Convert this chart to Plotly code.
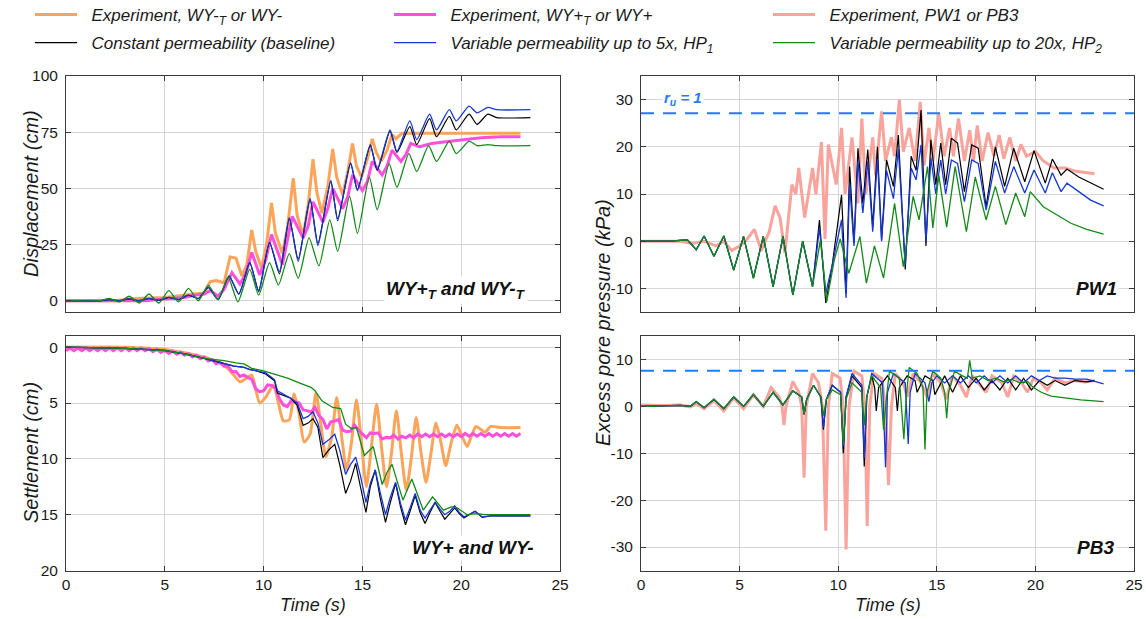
import plotly.graph_objects as go

# ---------------- data (time in s) ----------------
# Displacement (cm) - WY+T and WY-T
disp_exp_minus = [(0, 0), (2.5, 0), (3.5, 1), (5.0, 1.5), (6.5, 3), (7.0, 3.5), (7.3, 8.5), (7.6, 9), (8.0, 8),
                  (8.15, 14), (8.3, 19.5), (8.6, 19), (8.9, 11), (9.15, 16), (9.4, 31.5), (9.6, 22), (9.9, 14.5),
                  (10.15, 25), (10.4, 43.5), (10.6, 30), (10.95, 21), (11.2, 32), (11.5, 54.5), (11.7, 38),
                  (12.0, 29), (12.25, 42), (12.5, 63), (12.7, 48), (12.95, 39), (13.25, 51), (13.5, 67.5),
                  (13.7, 55), (14.0, 47), (14.25, 57), (14.5, 70), (14.7, 60), (14.95, 55), (15.25, 63),
                  (15.5, 72), (15.7, 66), (15.95, 62), (16.25, 67), (16.5, 74), (16.7, 72), (17.0, 74.5),
                  (23.0, 74.5)]
disp_exp_plus = [(0, 0), (4, 0), (5, 0.8), (6, 1.5), (6.5, 2.5), (7.0, 3), (7.3, 4.5), (7.7, 2), (8.0, 5),
                 (8.4, 12.5), (8.8, 7.5), (9.1, 12), (9.4, 21.5), (9.8, 11.5), (10.1, 18), (10.4, 29.5),
                 (10.95, 16), (11.2, 26), (11.45, 37.5), (12.0, 28), (12.25, 33), (12.5, 44), (13.0, 35),
                 (13.25, 41), (13.5, 50), (14.0, 41), (14.25, 46), (14.5, 56), (15.0, 49), (15.25, 53),
                 (15.5, 62), (16.0, 56), (16.25, 60), (16.5, 67), (16.95, 62), (17.2, 65), (17.45, 70),
                 (17.9, 68.5), (18.5, 70), (19.0, 70.5), (20.0, 71.5), (21.0, 72.5), (22.0, 73), (23.0, 73)]
disp_const = [(0, 0), (1.7, 0), (2.2, 0.5), (2.7, 0), (3.2, 0.8), (3.7, 0), (4.2, 1.0), (4.7, 0.2), (5.2, 1.5),
              (5.7, 0.5), (6.2, 2.5), (6.7, 1), (7.2, 6), (7.7, 0.5), (8.25, 11), (8.75, 3), (9.3, 17),
              (9.75, 4.5), (10.3, 26), (10.8, 12), (11.3, 36.5), (11.75, 18.5), (12.35, 45), (12.75, 25.5),
              (13.4, 53), (13.75, 36.5), (14.4, 61), (14.75, 49.5), (15.4, 69), (15.75, 58), (16.4, 75.5),
              (16.75, 66), (17.4, 77.5), (17.75, 69.5), (18.4, 81), (18.75, 73), (19.4, 82), (19.75, 76),
              (20.4, 83), (20.8, 78.5), (21.35, 83), (21.8, 81.5), (23.5, 81.5)]
disp_hp1 = [(0, 0), (1.7, 0), (2.2, 0.5), (2.7, 0), (3.2, 0.8), (3.7, 0), (4.2, 1.0), (4.7, 0.2), (5.2, 1.5),
            (5.7, 0.5), (6.2, 2.5), (6.7, 1), (7.2, 6), (7.7, 0.5), (8.25, 11), (8.75, 3), (9.3, 17),
            (9.75, 4), (10.3, 26), (10.8, 13), (11.3, 37), (11.75, 17.5), (12.35, 45.5), (12.75, 24.5),
            (13.4, 53.5), (13.75, 35.5), (14.4, 61.5), (14.75, 49), (15.4, 69.5), (15.75, 58.5), (16.4, 76),
            (16.75, 66.5), (17.4, 80), (17.75, 71.7), (18.4, 83), (18.75, 76), (19.4, 85), (19.75, 80),
            (20.4, 86.6), (20.8, 83.6), (21.35, 86), (21.8, 85), (23.5, 85)]
disp_hp2 = [(0, 0), (1.7, 0), (2.2, 1), (2.7, -0.5), (3.2, 2), (3.7, -1), (4.2, 3), (4.7, -1), (5.2, 4.5),
            (5.7, -0.5), (6.2, 5.5), (6.7, 0), (7.2, 7), (7.7, 0.5), (8.2, 10.5), (8.7, -0.5), (9.3, 14),
            (9.75, 2.5), (10.3, 17), (10.75, 7), (11.3, 21), (11.75, 10), (12.3, 28), (12.8, 15.5),
            (13.35, 36), (13.75, 22), (14.35, 46.5), (14.75, 30), (15.35, 55), (15.75, 40.5), (16.35, 61),
            (16.75, 50.5), (17.35, 65.5), (17.75, 57.5), (18.35, 69), (18.75, 62), (19.4, 71), (19.75, 65.5),
            (20.4, 71), (20.8, 69), (21.35, 69.5), (21.8, 69), (23.5, 69)]

# Settlement (cm) - WY+ and WY-
sett_exp_minus = [(0, 0), (3, 0), (5, 0.2), (6, 0.5), (7, 0.9), (7.5, 1.2), (8.0, 1.6), (8.4, 2.3), (8.8, 3.1),
                  (9.1, 2.8), (9.4, 2.5), (9.8, 5.0), (10.1, 4.5), (10.5, 3.4), (10.75, 5.0), (11.0, 6.6),
                  (11.3, 6.5), (11.55, 4.2), (11.8, 6.0), (12.05, 8.5), (12.35, 7.8), (12.65, 4.1), (12.9, 7.0),
                  (13.15, 9.8), (13.45, 8.0), (13.7, 4.5), (13.95, 8.0), (14.2, 11.0), (14.45, 8.5), (14.7, 4.7),
                  (14.95, 8.5), (15.2, 12.5), (15.45, 9.0), (15.72, 5.1), (15.97, 9.0), (16.22, 12.5),
                  (16.47, 9.5), (16.72, 5.7), (16.97, 9.5), (17.22, 12.8), (17.47, 10), (17.72, 6.3),
                  (17.97, 9.5), (18.22, 12.1), (18.47, 9.5), (18.72, 6.8), (18.97, 8.5), (19.22, 10.6),
                  (19.5, 8.5), (19.78, 7.0), (20.05, 8.0), (20.3, 8.9), (20.55, 7.8), (20.75, 7.1), (21.2, 7.6),
                  (21.5, 7.1), (22.0, 7.2), (23.0, 7.2)]
# WY+ settlement record, sampled every 0.2 s from t = 0 to 23 s
sett_exp_plus_dt = 0.2
sett_exp_plus = [0.32, 0.08, 0.32, 0.08, 0.32, 0.08, 0.32, 0.08, 0.32, 0.08,
                 0.32, 0.08, 0.32, 0.08, 0.32, 0.08, 0.32, 0.08, 0.32, 0.08,
                 0.32, 0.12, 0.40, 0.20, 0.48, 0.28, 0.56, 0.36, 0.64, 0.44,
                 0.72, 0.56, 0.88, 0.72, 1.04, 0.88, 1.24, 1.12, 1.48, 1.36,
                 1.72, 1.72, 2.20, 2.18, 2.62, 2.48, 2.72, 2.88, 3.72, 3.98,
                 3.92, 3.38, 3.42, 3.68, 4.62, 5.18, 5.32, 4.78, 4.92, 4.98,
                 5.62, 5.68, 5.82, 5.38, 6.12, 6.48, 7.32, 6.68, 6.62, 6.48,
                 7.42, 7.58, 7.52, 6.98, 7.42, 7.78, 8.12, 7.68, 7.72, 7.68,
                 8.22, 8.08, 8.12, 7.88, 8.22, 7.98, 8.12, 7.88, 8.12, 7.78,
                 8.02, 7.78, 8.02, 7.78, 8.02, 7.78, 8.02, 7.78, 8.02, 7.78,
                 8.02, 7.73, 7.97, 7.73, 7.97, 7.73, 7.97, 7.73, 7.97, 7.73,
                 7.97, 7.73, 7.97, 7.73, 7.97, 7.73]
sett_const = [(0, 0), (3, 0.1), (5, 0.3), (6, 0.6), (7, 1.0), (8, 1.5), (8.5, 1.7), (9.0, 1.8), (9.3, 2.0),
              (9.6, 2.1), (10.1, 2.4), (10.4, 2.8), (10.55, 3.0), (10.7, 4.1), (11.0, 4.3), (11.4, 4.6),
              (11.7, 5.2), (12.0, 7.0), (12.25, 6.8), (12.5, 6.4), (12.75, 7.2), (13.0, 9.9), (13.3, 9.2),
              (13.6, 8.7), (13.85, 10.5), (14.15, 13.1), (14.4, 12.0), (14.66, 10.4), (14.9, 12.5),
              (15.18, 14.8), (15.4, 12.5), (15.65, 11.0), (15.9, 13.5), (16.17, 15.7), (16.4, 14.0),
              (16.68, 12.2), (16.93, 14.3), (17.18, 15.9), (17.43, 14.6), (17.67, 13.3), (17.92, 14.8),
              (18.17, 15.8), (18.42, 14.8), (18.68, 13.9), (18.93, 14.7), (19.17, 15.4), (19.42, 14.9),
              (19.67, 14.4), (19.9, 14.9), (20.14, 15.3), (20.4, 15.0), (20.7, 14.7), (21.07, 15.25),
              (21.5, 15.1), (23.5, 15.1)]
sett_hp1 = [(0, 0), (3, 0.1), (5, 0.3), (6, 0.6), (7, 1.0), (8, 1.5), (8.5, 1.7), (9.0, 1.8), (9.3, 2.0),
            (9.6, 2.1), (10.1, 2.3), (10.4, 2.7), (10.55, 2.9), (10.7, 3.9), (11.0, 4.2), (11.4, 4.6),
            (11.7, 5.0), (12.0, 6.4), (12.25, 6.2), (12.5, 5.8), (12.75, 6.8), (13.0, 8.7), (13.3, 8.3),
            (13.6, 7.8), (13.85, 9.2), (14.15, 11.4), (14.4, 10.5), (14.66, 9.85), (14.9, 11.5),
            (15.18, 13.9), (15.4, 12.2), (15.65, 11.0), (15.9, 13.0), (16.17, 15.0), (16.4, 13.5),
            (16.68, 12.1), (16.93, 14.0), (17.18, 15.5), (17.43, 14.3), (17.67, 13.1), (17.92, 14.6),
            (18.17, 15.3), (18.42, 14.6), (18.68, 13.9), (18.93, 14.5), (19.17, 15.0), (19.42, 14.7),
            (19.67, 14.2), (19.9, 14.8), (20.14, 15.2), (20.4, 15.0), (20.7, 14.7), (21.07, 15.2),
            (21.5, 15.1), (23.5, 15.1)]
sett_hp2 = [(0, 0), (3, 0.1), (5, 0.3), (6, 0.6), (7, 1.0), (8, 1.2), (8.6, 1.4), (9.0, 1.5), (9.4, 1.9),
            (9.95, 2.1), (10.5, 2.4), (11.25, 2.8), (11.8, 3.2), (12.4, 3.6), (12.6, 3.9), (12.95, 4.8),
            (13.5, 5.4), (13.9, 5.5), (14.15, 6.9), (14.45, 7.3), (14.7, 7.2), (15.1, 9.7), (15.55, 8.9),
            (16.0, 12.3), (16.25, 11.2), (16.5, 10.5), (17.05, 13.7), (17.5, 11.8), (18.08, 14.6),
            (18.55, 13.4), (19.1, 14.6), (19.5, 14.3), (19.8, 14.4), (20.3, 15.0), (20.8, 14.9),
            (21.2, 15.0), (23.5, 15.0)]

# Excess pore pressure (kPa) - PW1
pw1_exp = [(0, 0), (2.0, 0), (2.6, -0.5), (3.2, 0), (3.8, -1), (4.2, 0), (4.6, -2), (5.0, -1), (5.3, 0),
           (5.75, 2.5), (6.1, -2), (6.5, 2), (6.8, 7.5), (7.05, 5), (7.3, -2.5), (7.65, 12), (7.85, 10),
           (8.0, 15.5), (8.3, 5), (8.7, 15.5), (8.87, 10), (9.15, 21), (9.33, 0.5), (9.5, 20.5), (9.9, 12),
           (10.17, 24), (10.35, 10), (10.7, 22), (11.0, 8), (11.2, 26), (11.4, 10), (11.75, 22), (11.9, 14),
           (12.2, 27.5), (12.4, 17), (12.7, 22), (12.86, 18), (13.1, 30), (13.3, 19), (13.6, 24), (13.9, 17),
           (14.16, 29.5), (14.35, 16), (14.6, 24), (14.8, 17), (15.1, 27), (15.37, 18), (15.65, 24),
           (15.84, 18), (16.1, 26), (16.4, 17), (16.67, 23.5), (16.86, 17), (17.05, 24.5), (17.3, 17),
           (17.6, 23), (17.9, 18), (18.16, 22.5), (18.4, 17.5), (18.7, 22), (19.0, 17), (19.27, 20.5),
           (19.55, 18), (20.0, 19), (20.4, 17), (20.6, 16.5), (20.95, 15.5), (21.5, 15.5), (22.06, 14.8),
           (23.0, 14.3)]
pw1_time = [0, 1.5, 2.35, 2.8, 3.2, 3.7, 4.2, 4.7, 5.2, 5.7, 6.2, 6.7, 7.2, 7.7, 8.2, 8.7, 9.05, 9.37, 9.7,
            10.17, 10.4, 10.58, 10.8, 11.0, 11.25, 11.5, 11.75, 11.99, 12.2, 12.45, 12.8, 13.05, 13.4, 13.7,
            13.95, 14.2, 14.45, 14.7, 14.95, 15.2, 15.45, 15.74, 16.05, 16.4, 16.77, 17.1, 17.5, 17.97, 18.44,
            18.9, 19.46, 19.93, 20.5, 20.86, 21.3, 21.6, 22.2, 22.8, 23.46]
pw1_const = [0, 0, 0.3, -1.8, 1.1, -3.2, 1.1, -6.1, 1.0, -7.8, 1.0, -9.6, 1.0, -11.4, 0, -9.6, 4.5, -13.1, -5,
             9.8, -11, 15.8, -0.4, 19.7, 8, 19.4, 3, 20, 0.3, 17.2, 11.6, 22.5, -6, 18, 15, 27.8, -1, 21.5, 12,
             20.8, 12, 21.8, 20.8, 10.5, 20.4, 19.7, 7.3, 20, 11.6, 19.7, 12.6, 19.2, 12.3, 17.4, 14.0, 15.3,
             13.6, 12.4, 11]
pw1_hp1 = [0, 0, 0.3, -1.8, 1.1, -3.2, 1.1, -6.1, 1.0, -7.8, 1.0, -9.6, 1.0, -11.4, 0, -9.6, 2.8, -11, -5,
           4.5, -12, 12, -1, 17, 6, 17, 2, 17.5, 0, 15, 9, 19.5, -5, 15.5, 13, 20.4, 0, 17.6, 10, 17.2, 10,
           17.2, 16.5, 8.4, 17.2, 16.5, 6.6, 16.9, 10.2, 15.8, 10.2, 15.1, 10.2, 14.5, 10.5, 12.3, 10.5, 8.7,
           7.5]
pw1_hp2 = [(0, 0), (1.5, 0), (2.35, 0.3), (2.8, -1.8), (3.2, 1.1), (3.7, -3.2), (4.2, 1.1), (4.7, -6.1),
           (5.2, 1.0), (5.7, -7.8), (6.2, 1.0), (6.7, -9.6), (7.2, 1.0), (7.7, -11.4), (8.2, 0), (8.7, -9.6),
           (9.1, 0.3), (9.42, -12.8), (9.8, -4), (10.1, 0.5), (10.54, -6.8), (11.1, 1), (11.43, -8.9),
           (11.84, -1), (12.3, -7.8), (12.86, 8), (13.3, -5.4), (13.8, 9.5), (14.1, 4.5), (14.53, 15.8),
           (14.8, 2.8), (15.1, 14), (15.5, 3), (15.93, 15.8), (16.5, 2), (16.95, 13.6), (17.5, 4.5),
           (17.97, 11.6), (18.5, 3.5), (19.0, 10.2), (19.46, 5.2), (19.74, 10.5), (20.4, 7.3), (21.0, 5.8),
           (21.8, 3.8), (22.6, 2.5), (23.46, 1.5)]

# Excess pore pressure (kPa) - PB3
pb3_exp = [(0, 0.3), (1, 0.2), (2, 0.3), (2.5, -0.1), (2.8, 0.6), (3.2, -0.5), (3.7, 1.2), (4.2, -1), (4.7, 1.8),
           (5.2, -0.5), (5.7, 2.5), (6.2, 0), (6.6, 4), (7.0, 2), (7.15, 0), (7.25, -4), (7.35, 0), (7.7, 5.3),
           (8.0, 3), (8.15, 0), (8.27, -15.2), (8.38, 0), (8.7, 7), (9.0, 5), (9.2, 0), (9.37, -26.5), (9.5, 0),
           (9.7, 7), (10.1, 6), (10.25, 0), (10.4, -30.5), (10.55, 0), (10.8, 7.5), (11.2, 6.5), (11.35, 0),
           (11.47, -25.5), (11.6, 0), (11.8, 7), (12.2, 6), (12.4, 0), (12.55, -16.8), (12.7, 0), (12.9, 7),
           (13.3, 5), (13.5, 2), (13.8, 7), (14.2, 5), (14.5, 2), (14.8, 7), (15.2, 5), (15.47, 1.5),
           (15.8, 6.5), (16.2, 4.5), (16.5, 2), (16.8, 6.5), (17.2, 4.5), (17.5, 3), (17.8, 6.5), (18.3, 5),
           (18.6, 2), (18.9, 6.5), (19.3, 5), (19.6, 3), (19.9, 6), (20.3, 5), (20.6, 3.5), (21.0, 6),
           (21.5, 5), (22.0, 5.5), (22.5, 5.2), (23.0, 5.5)]
pb3_const = [(0, 0), (2.0, 0.2), (2.5, 0), (2.8, 1), (3.2, -0.3), (3.7, 1.5), (4.2, -0.5), (4.7, 2), (5.2, 0),
             (5.7, 2.5), (6.2, 0), (6.7, 3), (7.2, 0.3), (7.7, 3.3), (8.15, 2), (8.27, -1.7), (8.4, 1.5),
             (8.75, 4.5), (9.12, 2), (9.25, -5), (9.4, 1.5), (9.7, 4.5), (10.12, 3), (10.26, -10), (10.4, 2),
             (10.7, 6.5), (11.2, 4), (11.32, -12.8), (11.45, 2), (11.7, 6.5), (11.85, 4), (11.93, -1),
             (12.05, 4), (12.5, 6.5), (12.9, 4), (13.0, -1), (13.1, 4), (13.5, 6.5), (13.9, 5.5), (14.0, 3),
             (14.4, 6.5), (14.8, 5.5), (14.9, 2.5), (15.4, 6.5), (15.8, 3), (16.2, 6.5), (16.6, 4), (17.0, 6),
             (17.4, 3.5), (17.8, 5.5), (18.2, 3.5), (18.6, 6), (19.0, 3.5), (19.4, 6), (19.8, 3.5), (20.2, 5.5),
             (20.6, 4.5), (21.0, 5.5), (21.5, 4.5), (22.0, 5.5), (22.6, 5.2), (23.0, 5.5)]
pb3_hp1 = [(0, 0), (2.0, 0.2), (2.5, 0), (2.8, 1), (3.2, -0.3), (3.7, 1.5), (4.2, -0.5), (4.7, 2), (5.2, 0),
           (5.7, 2.5), (6.2, 0), (6.7, 3), (7.2, 0.3), (7.7, 3.3), (8.15, 2), (8.27, -1.7), (8.4, 1.5),
           (8.75, 4.5), (9.12, 2), (9.25, -4.5), (9.4, 1.5), (9.7, 4.5), (10.12, 3), (10.26, -8.5), (10.4, 2),
           (10.7, 7), (11.2, 4.5), (11.32, -11), (11.45, 2), (11.7, 7), (12.25, 5), (12.4, -13), (12.5, 3),
           (12.8, 7), (13.4, 5), (13.55, -8), (13.65, 3), (13.9, 7), (14.4, 5), (14.6, 1), (14.75, 5),
           (15.0, 6.5), (15.4, 5), (15.8, 6.5), (16.2, 5), (16.6, 6.5), (17.0, 5), (17.4, 6.5), (17.8, 5),
           (18.2, 6.5), (18.6, 5), (19.0, 6.5), (19.4, 5), (19.8, 6.5), (20.2, 5.5), (20.6, 6.5), (21.0, 6),
           (21.5, 6), (22.0, 5.8), (22.6, 5.8), (23.46, 4.8)]
pb3_hp2 = [(0, 0), (2.0, 0.2), (2.5, 0), (2.8, 1), (3.2, -0.3), (3.7, 1.5), (4.2, -0.5), (4.7, 2), (5.2, 0),
           (5.7, 2.5), (6.2, 0), (6.7, 3), (7.2, 0.3), (7.7, 3.3), (8.15, 2), (8.27, -1.7), (8.4, 1.5),
           (8.75, 4.5), (9.12, 2), (9.25, -2), (9.4, 1.5), (9.7, 3.5), (10.12, 2.5), (10.26, -8), (10.4, 1.5),
           (10.7, 5), (11.2, 3), (11.32, -4), (11.45, 2), (11.7, 6.5), (12.15, 4), (12.3, -5), (12.45, 2),
           (12.6, 7.5), (13.1, 6), (13.33, -7), (13.45, 2), (13.6, 8.3), (14.0, 7), (14.3, 4), (14.4, -9.2),
           (14.5, 3), (14.8, 7.5), (15.2, 6), (15.4, 3), (15.5, -2.5), (15.6, 3), (15.9, 7.5), (16.3, 6.5),
           (16.55, 6), (16.67, 9.8), (16.8, 6), (17.2, 6.5), (17.6, 5.5), (18.0, 6), (18.4, 5.2), (18.8, 5.8),
           (19.2, 5), (19.6, 5.3), (19.9, 4), (20.3, 3), (20.8, 2.2), (21.5, 1.8), (22.3, 1.4), (23.46, 1.0)]

# pore pressure ratio r_u = 1 levels (kPa)
ru1_pw1 = 27.1
ru1_pb3 = 7.6

# tick labels
time_ticks = [0, 5, 10, 15, 20, 25]
disp_ticks = [0, 25, 50, 75, 100]
sett_ticks = [0, 5, 10, 15, 20]
pw1_ticks = [-10, 0, 10, 20, 30]
pb3_ticks = [-30, -20, -10, 0, 10]

series_names = {
    "exp_minus": "Experiment, WY-<sub>T</sub> or WY-",
    "exp_plus": "Experiment, WY+<sub>T</sub> or WY+",
    "exp_pw": "Experiment, PW1 or PB3",
    "const": "Constant permeability (baseline)",
    "hp1": "Variable permeability up to 5x, HP<sub>1</sub>",
    "hp2": "Variable permeability up to 20x, HP<sub>2</sub>",
}

# ---------------- styling ----------------
FONT = "Liberation Sans, Arial, sans-serif"
W, H = 1146, 619
styles = {
    "exp_minus": dict(color="#fba45a", width=3),
    "exp_plus": dict(color="#ff4fdc", width=3),
    "exp_pw": dict(color="#f8a39c", width=3),
    "const": dict(color="#000000", width=1.2),
    "hp1": dict(color="#1536d8", width=1.3),
    "hp2": dict(color="#138a18", width=1.3),
}
# one legend box per entry: (legend id, left edge px, row centre px)
legend_slot = {
    "exp_minus": ("legend", 30, 15), "exp_plus": ("legend2", 389, 15), "exp_pw": ("legend3", 768, 15),
    "const": ("legend4", 30, 43), "hp1": ("legend5", 389, 43), "hp2": ("legend6", 768, 43),
}


def unzip(pairs):
    return [p[0] for p in pairs], [p[1] for p in pairs]


fig = go.Figure()
shown = set()


def add(key, t, v, xa, ya, shape="linear"):
    first = key not in shown
    shown.add(key)
    fig.add_trace(go.Scatter(
        x=t, y=v, mode="lines", name="\u00a0\u00a0" + series_names[key], legendgroup=key,
        showlegend=first, legend=legend_slot[key][0],
        line=dict(shape=shape, smoothing=0.6 if shape == "spline" else None, **styles[key]),
        xaxis=xa, yaxis=ya, hoverinfo="skip"))


# displacement
add("exp_minus", *unzip(disp_exp_minus), "x", "y")
add("exp_plus", *unzip(disp_exp_plus), "x", "y")
add("const", *unzip(disp_const), "x", "y", "spline")
add("hp1", *unzip(disp_hp1), "x", "y", "spline")
add("hp2", *unzip(disp_hp2), "x", "y", "spline")

# settlement
add("exp_minus", *unzip(sett_exp_minus), "x2", "y2", "spline")
sp_t = [round(i * sett_exp_plus_dt, 1) for i in range(len(sett_exp_plus))]
add("exp_plus", sp_t, sett_exp_plus, "x2", "y2")
add("const", *unzip(sett_const), "x2", "y2")
add("hp1", *unzip(sett_hp1), "x2", "y2")
add("hp2", *unzip(sett_hp2), "x2", "y2")

# PW1
add("exp_pw", *unzip(pw1_exp), "x3", "y3")
add("const", pw1_time, pw1_const, "x3", "y3")
add("hp1", pw1_time, pw1_hp1, "x3", "y3")
add("hp2", *unzip(pw1_hp2), "x3", "y3")

# PB3
add("exp_pw", *unzip(pb3_exp), "x4", "y4")
add("const", *unzip(pb3_const), "x4", "y4")
add("hp1", *unzip(pb3_hp1), "x4", "y4")
add("hp2", *unzip(pb3_hp2), "x4", "y4")

# r_u = 1 reference lines
for ya, lvl in (("y3", ru1_pw1), ("y4", ru1_pb3)):
    fig.add_trace(go.Scatter(x=[0, 25], y=[lvl, lvl], mode="lines", showlegend=False, hoverinfo="skip",
                             line=dict(color="#1f7bff", width=2, dash="13px,9px"),
                             xaxis=ya.replace("y", "x"), yaxis=ya))

LEFT = [66 / W, 560 / W]
RIGHT = [641 / W, 1134 / W]
TOP = [1 - 312 / H, 1 - 76 / H]
BOTTOM = [1 - 570.5 / H, 1 - 336 / H]

axis_common = dict(showline=True, linecolor="#3a3a3a", linewidth=1, mirror="ticks", ticks="inside",
                   ticklen=5, tickcolor="#3a3a3a", showgrid=True, gridcolor="#d6d6d6", gridwidth=1,
                   zeroline=False, tickfont=dict(family=FONT, size=15.5, color="#1a1a1a"))


def xaxis(domain, anchor, labels):
    return dict(domain=domain, anchor=anchor, range=[0, 25], tickvals=time_ticks,
                ticktext=[str(v) for v in time_ticks], showticklabels=labels, ticklabelstandoff=0,
                **axis_common)


def yaxis(domain, anchor, rng, ticks):
    return dict(domain=domain, anchor=anchor, range=rng, tickvals=ticks,
                ticktext=[str(v) for v in ticks], ticklabelstandoff=4, **axis_common)


def px(x):
    return x / W


def py(y):
    return 1 - y / H


title_font = dict(family=FONT, size=18, color="#1a1a1a", style="italic")
vtitle_font = dict(family=FONT, size=20, color="#1a1a1a", style="italic")
label_font = dict(family=FONT, size=19, color="#111111")

annotations = [
    dict(text="Displacement (cm)", x=px(31), y=py(194), textangle=-90, font=vtitle_font),
    dict(text="Settlement (cm)", x=px(31), y=py(453), textangle=-90, font=vtitle_font),
    dict(text="Excess pore pressure (kPa)", x=px(603), y=py(323), textangle=-90, font=vtitle_font),
    dict(text="Time (s)", x=px(313), y=py(605), font=title_font),
    dict(text="Time (s)", x=px(887.5), y=py(605), font=title_font),
    dict(text="<b><i>WY+<sub>T</sub> and WY-<sub>T</sub></i></b>", x=19.75, y=4.8, xref="x", yref="y",
         font=label_font, bgcolor="white"),
    dict(text="<b><i>WY+ and WY-</i></b>", x=20.6, y=17.9, xref="x2", yref="y2",
         font=label_font, bgcolor="white"),
    dict(text="<b><i>PW1</i></b>", x=23.1, y=-10, xref="x3", yref="y3", font=label_font, bgcolor="white"),
    dict(text="<b><i>PB3</i></b>", x=23.05, y=-30, xref="x4", yref="y4", font=label_font, bgcolor="white"),
    dict(text="<b><i>r<sub>u</sub> = 1</i></b>", x=2.15, y=30.2, xref="x3", yref="y3",
         font=dict(family=FONT, size=15, color="#1f7bff"), bgcolor="white"),
]
for a in annotations:
    a.setdefault("xref", "paper")
    a.setdefault("yref", "paper")
    a["xanchor"] = "center"
    a["yanchor"] = "middle"
    a["showarrow"] = False

legend_common = dict(orientation="h", xanchor="left", yanchor="middle", itemwidth=42,
                     bgcolor="rgba(0,0,0,0)",
                     font=dict(family=FONT, size=17, color="#1a1a1a", style="italic"))
legends = {lid: dict(x=px(lx), y=py(ly), **legend_common) for lid, lx, ly in legend_slot.values()}

fig.update_layout(
    width=W, height=H, margin=dict(l=0, r=0, t=0, b=0, autoexpand=False),
    paper_bgcolor="white", plot_bgcolor="white",
    showlegend=True,
    xaxis=xaxis(LEFT, "y", False), yaxis=yaxis(TOP, "x", [-5, 100], disp_ticks),
    xaxis2=xaxis(LEFT, "y2", True), yaxis2=yaxis(BOTTOM, "x2", [20, -1], sett_ticks),
    xaxis3=xaxis(RIGHT, "y3", False), yaxis3=yaxis(TOP, "x3", [-15, 35], pw1_ticks),
    xaxis4=xaxis(RIGHT, "y4", True), yaxis4=yaxis(BOTTOM, "x4", [-35, 15], pb3_ticks),
    annotations=annotations,
    **legends,
)

fig.write_html("out.html")
